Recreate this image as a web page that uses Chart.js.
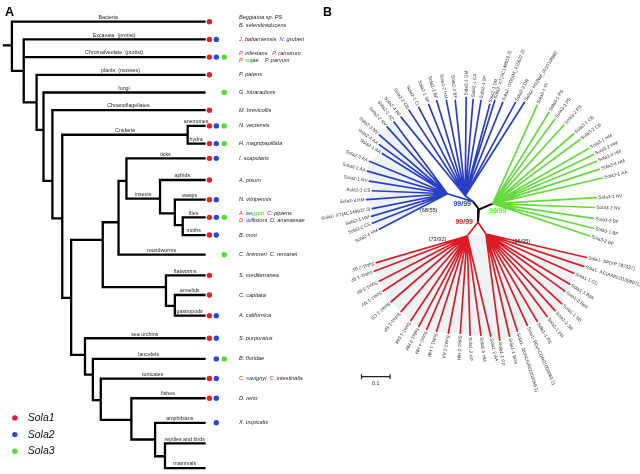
<!DOCTYPE html>
<html><head><meta charset="utf-8">
<script src="https://cdn.jsdelivr.net/npm/chart.js@4.4.1/dist/chart.umd.min.js"></script>
<style>html,body{margin:0;padding:0;background:#fff;overflow:hidden}</style>
</head><body>
<canvas id="c" width="640" height="474"></canvas>
<script>
// ================= DATA: panel A (cladogram) =================
const cladeNames = ["Bacteria","Excavata  (protist)","Chromalveolate  (protist)","plants  (mosses)","fungi","Choanoflagellates","anemones","hydra","ticks","aphids","wasps","flies","moths","roundworms","flatworms","annelids","gastropods","sea urchins","lancelets","tunicates","fishes","amphibians","reptiles and birds","mammals"];
const leafRow = [18,36,54,72,90,108,124,142,157,179,199,217,235,255,276,296,317,340,361,381,401,426,447,472];
const hasSola1 = [1,1,1,1,0,1,1,1,1,1,1,1,1,0,1,1,1,1,0,1,1,0,0,0];
const hasSola2 = [0,1,1,0,0,0,1,1,1,0,1,1,1,0,0,0,1,1,1,1,1,1,0,0];
const hasSola3 = [0,0,1,0,1,0,1,1,0,0,0,1,0,1,0,0,0,0,1,0,0,0,0,0];
const speciesLabels = [
 "Beggiatoa sp. PS\nB. selenitireducens",
 "{r}J. {k}bahamiensis  {b}N. {k}gruberi",
 "{r}P. {k}infestans   {r}P. {k}ramorum\n{r}P. {g}so{k}jae    {b}P. {k}parvum",
 "P. patens","G. intraradices","M. brevicollis","N. vectensis","H. magnipapillata",
 "I. scapularis","A. pisum","N. vitripennis",
 "{r}A. {b}ae{g}gypti  {r}C. {k}pipiens\n{r}D. {b}wi{k}llistoni  {b}D. {k}ananassae",
 "B. mori","C. brenneri  C. remanei","S. mediterranea","C. capitata","A. californica",
 "S. purpuratus","B. floridae","{r}C. {b}sa{k}vignyi  {r}C. {k}intestinalis","D. rerio","X. tropicalis","",""
];
const nodeIds    = ["root","n2","n3","n4","n5","n6","cnid","bilat","proto","ecdy","arth","ins","holo","fm","loph","ag","deut","chord","olf","vert","tetra","amn"];
const nodeDepth  = [8,20,33,40,49,59,186,68,100,116,124,158,173,181,164,173,82,90,98,129,153,163];
const nodeRow    = [42,68,100,128,180,218,133,299,240,222,180,198,213,225,288,307,357,377,403,423,443,460];
const nodeLabel  = ["","","","","","","Cnidaria","","","","","insects","","","","","","","","","",""];
const nodeChildren = [["L0","n2"],["L1","L2","n3"],["L3","n4"],["L4","n5"],["L5","n6"],["cnid","bilat"],["L6","L7"],["proto","deut"],["ecdy","loph"],["arth","L13"],["L8","ins"],["L9","holo"],["L10","fm"],["L11","L12"],["L14","ag"],["L15","L16"],["L17","chord"],["L18","olf"],["L19","vert"],["L20","tetra"],["L21","amn"],["L22","L23"]];
const legendNames = ["Sola1","Sola2","Sola3"];

// ================= DATA: panel B (unrooted tree) =================
const innerFrom   = ["C","C","C","B0","B0","R0","R0"];
const innerTo     = ["B0","G0","R0","BL","BT","RL","RR"];
const innerAngle  = [126.9,23.2,265.6,162.9,143.1,231.8,303.7];
const innerLength = [10,15.2,13,27.2,10,17.8,14.4];
const innerColor  = ["k","k","k","b","b","r","r"];

const sola2aNames  = ["Sola2-4 HM","Sola2-2 CS","Sola2-1 HM","Sola2- XT(AC149937.3)","Sola2-3 HM","Sola2-1 CS","Sola2-1 NV","Sola2-2 AA","Sola2-3 AA","Sola2-1 AA","Sola2-4 AA","Sola2-3 NV","Sola2-2 NV","Sola2-1 AC"];
const sola2aAngle  = [207.6,201.5,196.6,191.2,184.2,177.7,170.7,164.1,157.3,148.2,144.1,139.0,131.9,126.5];
const sola2aLength = [77.8,81.7,80.4,77.5,82.2,76.1,80.0,84.2,85.6,77.7,85.2,91.4,91.4,90.8];

const sola2bNames  = ["Sola2-4 BF","Sola2-2 CB","Sola2-1 CI","Sola2-1 SP","Sola2-3 BF","Sola2-2 HM","Sola2-2 BF","Sola2-1 DM","Sola2-1 CA","Sola2-1 BF","Sola2-1 DR","Sola2- XT(AC149916.3)","Sola2- GG(XM_415622.2)","Sola2-2 DR","Sola2- HS(NM_001010888)"];
const sola2bAngle  = [129.1,123.2,117.6,111.7,106.6,101.1,95.9,89.4,85.3,80.6,75.0,72.8,68.2,61.8,57.7];
const sola2bLength = [103,104,101.5,100,101,98.8,97.5,100,98.3,98.3,96.3,101.5,102.3,107.8,112.4];

const sola3Names  = ["Sola3-1 GI","Sola3-1 PS","Sola3-3 PS","Sola3-2 PS","Sola3-1 CB","Sola3-2 CB","Sola3-1 HM","Sola3-2 HM","Sola3-3 HM","Sola3-4 HM","Sola3-1 AA","Sola3-1 NV","Sola3-2 NV","Sola3-3 BF","Sola3-1 BF","Sola3-2 BF"];
const sola3Angle  = [65.8,58.5,53.8,48.0,40.9,36.4,30.0,26.1,22.3,18.0,13.2,3.3,-2.2,-8.4,-13.8,-18.6];
const sola3Length = [109.7,109,106.6,107.6,108.5,109.4,112,113.6,113.5,113.5,114,105.2,103.1,103.1,105,103.4];

const sola1aNames  = ["Sola1-2 BF","Sola1-1 BF","Sola1-3 BF","Sola1-1 NV","Sola1-1 CS","Sola1-1 SP","Sola1-1 DM","Sola1-3 HM","Sola1-4 HM","Sola1-1 HM","Sola1-1 AA","Sola1-2 HM","Sola1-2 AP","Sola1-5 HM","Sola1-2 AA"];
const sola1aAngle  = [196.4,200.9,207.3,213.4,221.0,229.0,236.5,242.0,246.7,252.3,259.1,266.0,271.7,277.9,283.2];
const sola1aLength = [95.9,100.7,100.2,101.8,102,102,103.2,104.2,103.5,101.8,100.8,99.2,101,102,104.8];

const sola1bNames  = ["Sola1-1 PP","Sola1-1 BGe","Sola1- JB(ACGR01000058.1)","Sola1- BD(ACGR01000063.1)","Sola1-1 PS","Sola1-1 PR","Sola1-2 SB","Sola1-1 SB","Sola1-2 Bpa","Sola1-1 Bpa","Sola1-1 CC","Sola1- AC(AAEC01099971)","Sola1- SP(XP 787037)"];
const sola1bAngle  = [277.4,283.0,287.9,294.3,300.3,306.4,311.9,317.3,324.0,329.0,335.8,341.6,346.8];
const sola1bLength = [108.9,106.7,104,102,103,104.4,104.8,104.7,98.8,99.1,97.6,104.4,104.8];

const bootstrapText = ["99/99","(68/55)","99/99","99/99","(73/92)","(96/95)"];
const bootstrapColor = ["b","k","g","r","k","k"];
const scaleBarValue = 0.1;

// ================= layout / style =================
const TXT = {k:'#1e1e1e', r:'#e0202a', b:'#2b42cf', g:'#45c82c'};
const LN  = {k:'#111111', r:'#dc1c25', b:'#2a3ec6', g:'#64da40'};
const DOT = ['#e3202b','#2c46d6','#52dc36'];
const TIP = 203, DOTOFF = [5,12,20], SPX = 238;
const BC = {x:481, y:209};          // panel B tree centre
const bootOff = [[-17,-6],[-51,1],[19,2],[-15,13],[-42,31],[43,33]];
const PX_PER_UNIT = 290;
const FONT = '"Liberation Sans", Arial, sans-serif';

// ================= build geometry =================
const GAP = {x:null, y:null};
function lineDs(segs, color, width, cap){
  const data = [];
  segs.forEach(s => { data.push({x:s[0],y:s[1]},{x:s[2],y:s[3]},GAP); });
  return {type:'scatter', data, showLine:true, borderColor:color, backgroundColor:color, borderWidth:width,
          pointRadius:0, pointHoverRadius:0, spanGaps:false, fill:false, clip:false,
          borderCapStyle:cap||'butt', borderJoinStyle:'miter'};
}
// panel A
const nodeIdx = {}; nodeIds.forEach((id,i)=>nodeIdx[id]=i);
const isLeaf = r => /^L\d+$/.test(r);
const refPos = r => isLeaf(r) ? {x:TIP, y:leafRow[+r.slice(1)]} : {x:nodeDepth[nodeIdx[r]], y:nodeRow[nodeIdx[r]]};
const parentDepth = {};
const segA = [];
const rootI = nodeIdx.root;
segA.push([0, nodeRow[rootI], nodeDepth[rootI], nodeRow[rootI]]);
nodeChildren.forEach((ch,i)=>{
  const d = nodeDepth[i];
  const ps = ch.map(refPos);
  const ys = ps.map(p=>p.y);
  segA.push([d, Math.min(...ys), d, Math.max(...ys)]);
  ch.forEach((r,j)=>{ parentDepth[r]=d; segA.push([d, ps[j].y, ps[j].x, ps[j].y]); });
});
const datasets = [];
datasets.push(lineDs(segA, '#000', 2.3, 'square'));
[hasSola1,hasSola2,hasSola3].forEach((arr,k)=>{
  const pts=[]; arr.forEach((v,i)=>{ if(v) pts.push({x:TIP+DOTOFF[k], y:leafRow[i]}); });
  pts.push({x:11, y:421+17*k});   // legend marker
  datasets.push({type:'scatter', data:pts, pointRadius:2.7, pointBackgroundColor:DOT[k], pointBorderColor:DOT[k], pointBorderWidth:0, showLine:false, clip:false});
});
// panel B
function polar(h, ang, len){ const a=ang*Math.PI/180; return {x:h.x+len*Math.cos(a), y:h.y-len*Math.sin(a)}; }
const hubs = {C:BC};
const segB = {k:[], b:[], g:[], r:[]};
innerTo.forEach((t,i)=>{ const f=hubs[innerFrom[i]]; const p=polar(f, innerAngle[i], innerLength[i]); hubs[t]=p; segB[innerColor[i]].push([f.x,f.y,p.x,p.y]); });
const groups = [
  {hub:'BL', names:sola2aNames, ang:sola2aAngle, len:sola2aLength, col:'b', flip:true},
  {hub:'BT', names:sola2bNames, ang:sola2bAngle, len:sola2bLength, col:'b', flip:true},
  {hub:'G0', names:sola3Names,  ang:sola3Angle,  len:sola3Length,  col:'g', flip:true},
  {hub:'RL', names:sola1aNames, ang:sola1aAngle, len:sola1aLength, col:'r', flip:false},
  {hub:'RR', names:sola1bNames, ang:sola1bAngle, len:sola1bLength, col:'r', flip:false}
];
groups.forEach(g=>{ const h=hubs[g.hub]; g.tips = g.ang.map((a,i)=>polar(h,a,g.len[i])); g.tips.forEach(t=>segB[g.col].push([h.x,h.y,t.x,t.y])); });
['g','b','r','k'].forEach(c=>datasets.push(lineDs(segB[c], LN[c], c==='k'?2:1.7, 'round')));
// scale bar
const sbL = 362, sbY = 379, sbW = scaleBarValue*PX_PER_UNIT;
datasets.push(lineDs([[sbL,sbY,sbL+sbW,sbY],[sbL,sbY-2.5,sbL,sbY+2.5],[sbL+sbW,sbY-2.5,sbL+sbW,sbY+2.5]], '#222', 1.2));

// ================= plugins =================
const fanPlugin = {id:'fans', beforeDatasetsDraw(chart){
  const ctx=chart.ctx, X=v=>chart.scales.x.getPixelForValue(v), Y=v=>chart.scales.y.getPixelForValue(v);
  ctx.save(); ctx.fillStyle='#edf2f4';
  const polys = [[hubs.BL, ...groups[0].tips], [hubs.RL, ...groups[3].tips, ...groups[4].tips, hubs.RR]];
  polys.forEach(p=>{ ctx.beginPath(); p.forEach((q,i)=> i?ctx.lineTo(X(q.x),Y(q.y)):ctx.moveTo(X(q.x),Y(q.y))); ctx.closePath(); ctx.fill(); });
  ctx.restore();
}};
function drawRich(ctx, str, x, y){
  const parts = str.split(/\{(\w)\}/); let col='k'; let cx=x;
  for(let i=0;i<parts.length;i++){
    if(i%2===1){ col=parts[i]; continue; }
    if(!parts[i]) continue;
    ctx.fillStyle=TXT[col]; ctx.fillText(parts[i], cx, y); cx += ctx.measureText(parts[i]).width;
  }
}
const textPlugin = {id:'texts', afterDatasetsDraw(chart){
  const ctx=chart.ctx, X=v=>chart.scales.x.getPixelForValue(v), Y=v=>chart.scales.y.getPixelForValue(v);
  ctx.save();
  // panel letters
  ctx.fillStyle='#000'; ctx.font='bold 12.5px '+FONT; ctx.textBaseline='alphabetic'; ctx.textAlign='left';
  ctx.fillText('A', X(1), Y(12)); ctx.fillText('B', X(323), Y(12));
  // clade labels
  ctx.font='5.3px '+FONT; ctx.fillStyle=TXT.k; ctx.textAlign='center'; ctx.textBaseline='alphabetic';
  cladeNames.forEach((n,i)=>{ const pd=parentDepth['L'+i]; ctx.fillText(n, X((pd+TIP)/2), Y(leafRow[i]-2.8)); });
  nodeLabel.forEach((n,i)=>{ if(!n) return; const pd=parentDepth[nodeIds[i]]; ctx.fillText(n, X((pd+nodeDepth[i])/2), Y(nodeRow[i]-2.8)); });
  // species
  ctx.font='italic 5.6px '+FONT; ctx.textAlign='left'; ctx.textBaseline='middle';
  speciesLabels.forEach((s,i)=>{ if(!s) return; const lines=s.split('\n'); lines.forEach((l,j)=>{ const dy = lines.length>1 ? (j===0?-4.2:3.6) : 0; drawRich(ctx, l, X(SPX), Y(leafRow[i]+dy)); }); });
  // legend
  ctx.font='italic 10.5px '+FONT; ctx.fillStyle='#111';
  legendNames.forEach((n,k)=> ctx.fillText(n, X(24), Y(421+17*k)));
  // panel B leaf labels
  ctx.font='4.7px '+FONT; ctx.fillStyle='#333';
  groups.forEach(g=>{
    g.tips.forEach((t,i)=>{
      const a=g.ang[i]*Math.PI/180; const px=X(t.x+2*Math.cos(a)), py=Y(t.y-2*Math.sin(a));
      ctx.save(); ctx.translate(px,py);
      const flip = g.flip && Math.cos(a) < 0;
      ctx.rotate(-a + (flip?Math.PI:0)); ctx.textAlign = flip?'right':'left'; ctx.textBaseline='middle';
      ctx.fillText(g.names[i], 0, 0); ctx.restore();
    });
  });
  // bootstrap values
  ctx.textAlign='center'; ctx.textBaseline='middle';
  bootstrapText.forEach((t,i)=>{
    const big = t.indexOf('(')<0;
    ctx.font=(big?'bold 7px ':'5.6px ')+FONT; ctx.fillStyle = big?LN[bootstrapColor[i]]:'#222';
    ctx.fillText(t, X(BC.x+bootOff[i][0]), Y(BC.y+bootOff[i][1]));
  });
  // scale bar label
  ctx.font='5.3px '+FONT; ctx.fillStyle='#222';
  ctx.fillText(String(scaleBarValue), X(sbL+sbW/2), Y(sbY+7));
  ctx.restore();
}};

new Chart(document.getElementById('c').getContext('2d'), {
  type:'scatter',
  data:{datasets},
  options:{
    responsive:false, animation:false, events:[], devicePixelRatio:1,
    layout:{padding:0},
    plugins:{legend:{display:false}, tooltip:{enabled:false}},
    scales:{ x:{type:'linear', min:0, max:640, display:false}, y:{type:'linear', min:0, max:474, reverse:true, display:false} }
  },
  plugins:[fanPlugin, textPlugin]
});
</script>
</body></html>
